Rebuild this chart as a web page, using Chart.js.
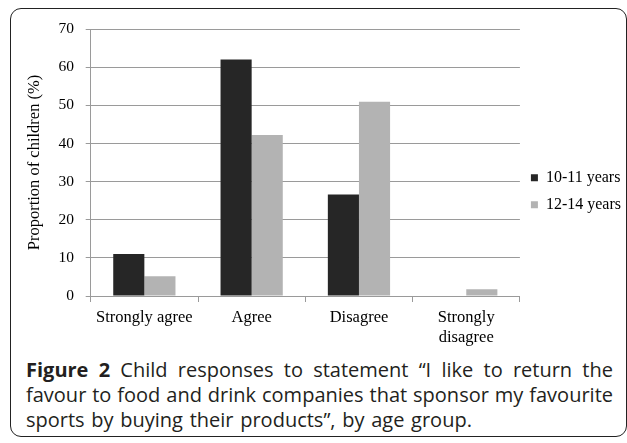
<!DOCTYPE html>
<html>
<head>
<meta charset="utf-8">
<script src="https://cdn.jsdelivr.net/npm/chart.js@4.4.1/dist/chart.umd.min.js"></script>
<style>
    html, body { margin: 0; padding: 0; background: #fff; overflow: hidden; }
    body { width: 627px; height: 443px; position: relative; }
    .frame {
        position: absolute; left: 10px; top: 8px; width: 617px; height: 429px;
        box-sizing: border-box; border: 1.5px solid #222; border-radius: 11px;
    }
    #chartWrap { position: absolute; left: 0; top: 0; width: 631px; height: 356px; }
    .caption {
        position: absolute; left: 26px; top: 357px; width: 587px;
        font-family: "Open Sans", "Noto Sans", sans-serif; font-size: 20px; line-height: 25px;
        color: #231f20;
    }
    .caption div { text-align: justify; text-align-last: justify; white-space: nowrap; }
    .caption div.last { text-align: left; text-align-last: left; word-spacing: 1.5px; }
</style>
</head>
<body>
<div class="frame"></div>
<div id="chartWrap"><canvas id="chart"></canvas></div>
<div class="caption">
    <div><b>Figure 2</b> Child responses to statement “I like to return the</div>
    <div>favour to food and drink companies that sponsor my favourite</div>
    <div class="last">sports by buying their products”, by age group.</div>
</div>
<script>
// chart data
const categories = ['Strongly agree', 'Agree', 'Disagree', ['Strongly', 'disagree']];
const seriesNames = ['10-11 years', '12-14 years'];
const years10to11 = [11.0, 62.0, 26.6, 0];
const years12to14 = [5.2, 42.2, 50.9, 1.8];
const yMin = 0, yMax = 70, yStep = 10;

const serif = '"Liberation Serif", "Times New Roman", serif';
const gridGray = '#9a9a9a';

const ctx = document.getElementById('chart');
new Chart(ctx, {
    type: 'bar',
    data: {
        labels: categories,
        datasets: [
            { label: seriesNames[0], data: years10to11, backgroundColor: '#262626', borderWidth: 0 },
            { label: seriesNames[1], data: years12to14, backgroundColor: '#b3b3b3', borderWidth: 0 }
        ]
    },
    options: {
        responsive: true,
        maintainAspectRatio: false,
        animation: false,
        categoryPercentage: 0.58,
        barPercentage: 1.0,
        layout: { padding: { left: 25, top: 29, right: 0, bottom: 2.4 } },
        plugins: {
            legend: {
                position: 'right',
                align: 'center',
                labels: {
                    boxWidth: 7, boxHeight: 7, padding: 11, color: '#000',
                    font: { family: serif, size: 16 }
                }
            },
            tooltip: { enabled: false }
        },
        scales: {
            x: {
                grid: { display: true, drawOnChartArea: false, drawTicks: true, tickLength: 6, color: gridGray, offset: true },
                border: { display: true, color: gridGray },
                ticks: { color: '#000', padding: 6, maxRotation: 0, autoSkip: false, font: { family: serif, size: 16.5 } }
            },
            y: {
                min: yMin, max: yMax,
                grid: { color: gridGray, drawTicks: true, tickLength: 5 },
                border: { display: true, color: gridGray },
                ticks: { stepSize: yStep, color: '#000', padding: 11.7, font: { family: serif, size: 15.5 } },
                title: {
                    display: true, text: 'Proportion of children (%)', color: '#000',
                    padding: { top: 0, bottom: 2 },
                    font: { family: serif, size: 16.5 }
                }
            }
        }
    }
});
</script>
</body>
</html>
